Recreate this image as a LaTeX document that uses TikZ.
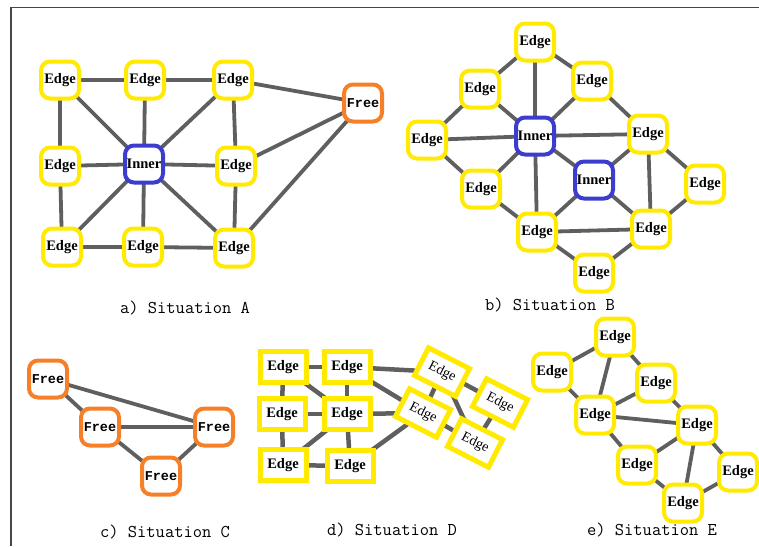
\documentclass[tikz,border=0pt]{standalone}
\usepackage{fontspec}
\setmainfont{Liberation Serif}
\newfontfamily\freefont{Liberation Mono}
\usetikzlibrary{backgrounds}
\definecolor{yel}{RGB}{255,234,0}
\definecolor{org}{RGB}{245,128,40}
\definecolor{blu}{RGB}{60,60,205}
\definecolor{lnk}{RGB}{95,95,95}
\definecolor{frm}{RGB}{70,70,70}
\begin{document}
\begin{tikzpicture}[x=1pt,y=-1pt,
  rbox/.style={draw, rounded corners=9pt, line width=4pt, fill=white,
    minimum width=38pt, minimum height=37pt, inner sep=0pt},
  yedge/.style={rbox, draw=yel, font=\fontsize{14.5}{14.5}\selectfont\bfseries},
  fnode/.style={rbox, draw=org, font=\fontsize{13.5}{13.5}\selectfont\freefont\bfseries},
  inode/.style={rbox, draw=blu, font=\fontsize{14.5}{14.5}\selectfont\bfseries},
  sqbox/.style={draw=yel, line width=5pt, fill=white, minimum width=46pt,
    minimum height=31pt, inner sep=0pt, font=\fontsize{14.5}{14.5}\selectfont\bfseries},
  rotbox/.style={sqbox, rotate=-27, font=\fontsize{14}{14}\selectfont},
  link/.style={draw=lnk, line width=3.8pt},
  dlink/.style={draw=lnk, line width=4.5pt},
  caption/.style={font=\fontsize{18}{20}\selectfont\ttfamily}
]
\useasboundingbox (0,0) rectangle (759,546);
\draw[frm, line width=1.5pt] (759,7.5) -- (11,7.5) -- (11,546);

% ---------- Situation A ----------
\node[yedge] (a1) at (60,80) {Edge};
\node[yedge] (a2) at (145,80) {Edge};
\node[yedge] (a3) at (233,80) {Edge};
\node[fnode] (af) at (363,103) {Free};
\node[yedge] (a4) at (60,166) {Edge};
\node[inode] (ai) at (144,164) {Inner};
\node[yedge] (a5) at (236,166) {Edge};
\node[yedge] (a6) at (62,247) {Edge};
\node[yedge] (a7) at (143,247) {Edge};
\node[yedge] (a8) at (234,248) {Edge};
\node[caption] (ca) at (185,308) {a) Situation A};

% ---------- Situation B ----------
\node[yedge] (b1) at (535,42) {Edge};
\node[yedge] (b2) at (480,89) {Edge};
\node[yedge] (b3) at (592,81) {Edge};
\node[yedge] (b4) at (427,140) {Edge};
\node[inode] (bi) at (535,136) {Inner};
\node[yedge] (b5) at (648,134) {Edge};
\node[yedge] (b6) at (481,189) {Edge};
\node[inode] (bj) at (594,180) {Inner};
\node[yedge] (b7) at (705,184) {Edge};
\node[yedge] (b8) at (537,232) {Edge};
\node[yedge] (b9) at (651,229) {Edge};
\node[yedge] (b10) at (594,273) {Edge};
\node[caption] (cb) at (550,305) {b) Situation B};

% ---------- Situation C ----------
\node[fnode] (c1) at (48,379) {Free};
\node[fnode] (c2) at (100,427) {Free};
\node[fnode] (c3) at (214,427) {Free};
\node[fnode] (c4) at (161,476) {Free};
\node[caption] (cc) at (165,532) {c) Situation C};

% ---------- Situation D ----------
\node[sqbox] (d1) at (283,367) {Edge};
\node[sqbox] (d2) at (347,367) {Edge};
\node[sqbox] (d3) at (282,414) {Edge};
\node[sqbox] (d4) at (347,414) {Edge};
\node[sqbox] (d5) at (283,465) {Edge};
\node[sqbox] (d6) at (350,466) {Edge};
\node[rotbox] (r1) at (442,372) {Edge};
\node[rotbox] (r2) at (423,413) {Edge};
\node[rotbox] (r3) at (500,403) {Edge};
\node[rotbox] (r4) at (475,443) {Edge};
\node[caption] (cd) at (392,530) {d) Situation D};

% ---------- Situation E ----------
\node[yedge] (e1) at (615,337) {Edge};
\node[yedge] (e2) at (552,372) {Edge};
\node[yedge] (e3) at (656,383) {Edge};
\node[yedge] (e4) at (595,415) {Edge};
\node[yedge] (e5) at (697,425) {Edge};
\node[yedge] (e6) at (637,465) {Edge};
\node[yedge] (e7) at (738,472) {Edge};
\node[yedge] (e8) at (683,503) {Edge};
\node[caption] (ce) at (652,530) {e) Situation E};

\begin{pgfonlayer}{background}
% A
\foreach \u/\v in {a1/a2,a2/a3,a3/af,a1/a4,a1/ai,a2/ai,a3/ai,a3/a5,a4/ai,ai/a5,a5/af,
  a4/a6,a6/ai,ai/a7,ai/a8,a5/a8,a6/a7,a7/a8,a8/af}
  \draw[link] (\u.center) -- (\v.center);
% B
\foreach \u/\v in {b1/b2,b1/bi,b1/b3,b2/b4,b2/bi,b3/bi,b3/b5,b4/bi,bi/b5,b4/b6,b6/bi,
  bi/bj,bi/b8,b5/bj,b5/b9,b5/b7,b6/b8,bj/b8,bj/b9,b7/b9,b8/b9,b8/b10,b9/b10}
  \draw[link] (\u.center) -- (\v.center);
% C
\foreach \u/\v in {c1/c2,c1/c3,c2/c3,c2/c4,c3/c4}
  \draw[link] (\u.center) -- (\v.center);
% D
\foreach \u/\v in {d1/d2,d1/d3,d2/d4,d3/d4,d3/d5,d4/d6,d5/d6,d1/d4,d5/d4,
  d2/r1,d2/r2,d4/r2,d6/r2,r1/r2,r1/r3,r1/r4,r2/r4,r3/r4}
  \draw[dlink] (\u.center) -- (\v.center);
% E
\foreach \u/\v in {e1/e2,e1/e4,e1/e3,e2/e4,e4/e3,e3/e5,e4/e5,e4/e6,e6/e5,e5/e8,e5/e7,e6/e8,e8/e7}
  \draw[link] (\u.center) -- (\v.center);
\end{pgfonlayer}
\end{tikzpicture}
\end{document}
